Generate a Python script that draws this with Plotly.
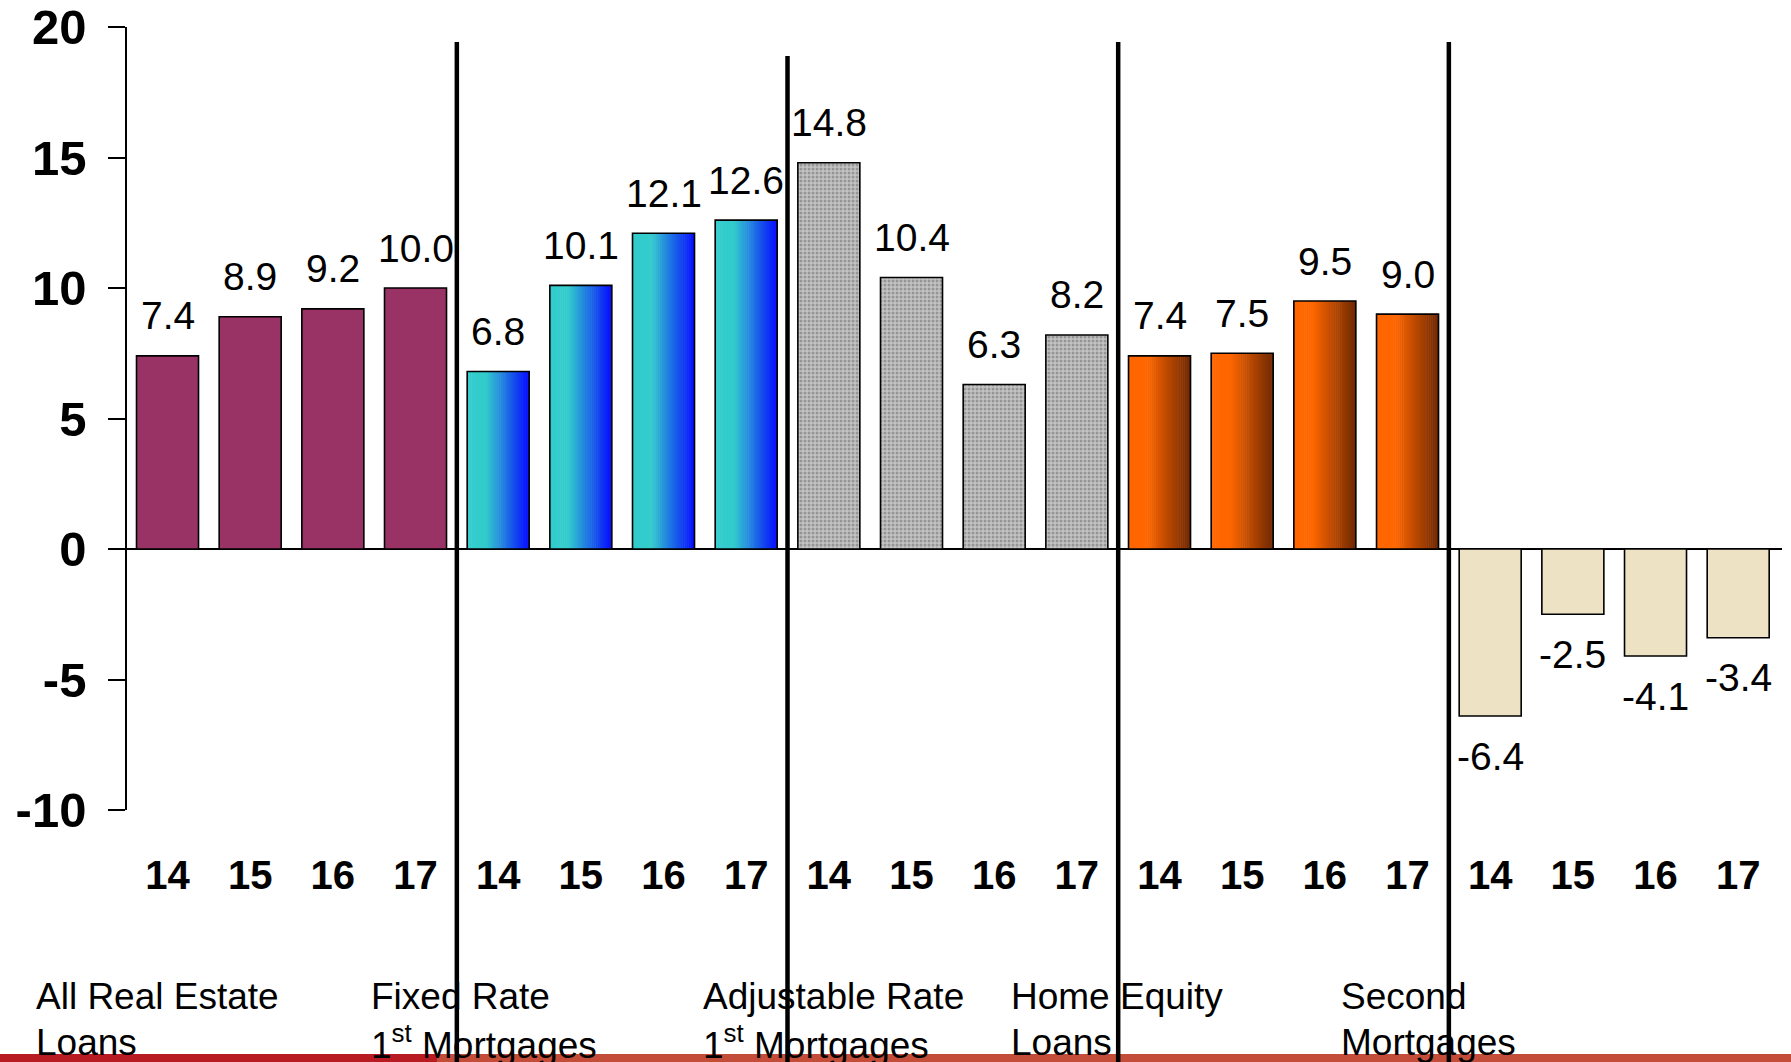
import plotly.graph_objects as go

# ---------------- data ----------------
groups = ["All Real Estate|Loans", "Fixed Rate|1<sup>st</sup> Mortgages",
          "Adjustable Rate|1<sup>st</sup> Mortgages", "Home Equity|Loans", "Second|Mortgages"]
years = ["14", "15", "16", "17"]
all_real_estate = [7.4, 8.9, 9.2, 10.0]
fixed_rate = [6.8, 10.1, 12.1, 12.6]
adjustable_rate = [14.8, 10.4, 6.3, 8.2]
home_equity = [7.4, 7.5, 9.5, 9.0]
second_mortgages = [-6.4, -2.5, -4.1, -3.4]
y_ticks = [-10, -5, 0, 5, 10, 15, 20]
y_ticktext = ["-10", "-5", "0", "5", "10", "15", "20"]

series = [all_real_estate, fixed_rate, adjustable_rate, home_equity, second_mortgages]
values = [v for s in series for v in s]
x_all = list(range(len(values)))
xs = [x_all[4 * g:4 * g + 4] for g in range(len(series))]

FONT = "Arial, Liberation Sans, sans-serif"
BW = 0.75
fig = go.Figure()

def grad(c0, c1, t0, t):
    if t <= t0:
        c = c0
    else:
        u = (t - t0) / (1 - t0)
        c = [c0[i] + (c1[i] - c0[i]) * u for i in range(3)]
    return "rgb(%d,%d,%d)" % tuple(int(round(v)) for v in c)

def gradient_bars(xv, yv, c0, c1, t0, n=30):
    step = BW / n
    for k in range(n):
        t = (k + 0.5) / n
        col = grad(c0, c1, t0, t)
        w = step * 1.25 if k < n - 1 else step
        fig.add_trace(go.Bar(x=xv, y=yv, width=w, offset=-BW / 2 + k * step,
                             marker=dict(color=col, line=dict(width=0)),
                             hoverinfo="skip", showlegend=False))

# group 1: solid magenta
fig.add_trace(go.Bar(x=xs[0], y=all_real_estate, width=BW,
                     marker=dict(color="#993366", line=dict(width=0)), showlegend=False))
# group 2: cyan -> blue gradient
gradient_bars(xs[1], fixed_rate, (51, 204, 204), (5, 10, 255), 0.3)
# group 3: grey stipple texture
fig.add_trace(go.Bar(x=xs[2], y=adjustable_rate, width=BW,
                     marker=dict(color="#bdbdbd", line=dict(width=0),
                                 pattern=dict(shape=".", bgcolor="#c4c4c4", fgcolor="#666666",
                                              size=4, solidity=0.45)),
                     showlegend=False))
# group 4: orange -> brown gradient
gradient_bars(xs[3], home_equity, (255, 102, 0), (110, 40, 2), 0.3)
# group 5: tan paper
fig.add_trace(go.Bar(x=xs[4], y=second_mortgages, width=BW,
                     marker=dict(color="#eee2c5", line=dict(width=0)), showlegend=False))
# outlines
fig.add_trace(go.Bar(x=x_all, y=values, width=BW,
                     marker=dict(color="rgba(0,0,0,0)", line=dict(color="black", width=1.6)),
                     showlegend=False, hoverinfo="skip"))

annotations = []
for xi, v in zip(x_all, values):
    annotations.append(dict(x=xi, y=v, xref="x", yref="y", text=f"{v:.1f}",
                            showarrow=False, yanchor="middle", yshift=40 if v >= 0 else -40,
                            font=dict(family=FONT, size=39, color="black")))

label_x = [-0.0562, 0.1462, 0.3468, 0.5329, 0.7323]
for lx, g in zip(label_x, groups):
    l1, l2 = g.split("|")
    annotations.append(dict(x=lx, y=-0.2385, xref="paper", yref="paper", text=l1, showarrow=False,
                            xanchor="left", yanchor="middle", font=dict(family=FONT, size=37, color="black")))
    annotations.append(dict(x=lx, y=-0.2965, xref="paper", yref="paper", text=l2, showarrow=False,
                            xanchor="left", yanchor="middle", font=dict(family=FONT, size=37, color="black")))

shapes = []
sep_tops = [0.981, 0.963, 0.981, 0.981]
for i, top in enumerate(sep_tops):
    xv = (xs[i][-1] + xs[i + 1][0]) / 2
    shapes.append(dict(type="line", xref="x", yref="paper", x0=xv, x1=xv, y0=top, y1=-0.36,
                       line=dict(color="black", width=4.5), layer="above"))
# bottom decorative stripe
shapes.append(dict(type="rect", xref="paper", yref="paper", x0=-0.08, x1=0.1873, y0=-0.3116, y1=-0.36,
                   fillcolor="#b81c22", line=dict(width=0), layer="below"))
shapes.append(dict(type="rect", xref="paper", yref="paper", x0=0.1873, x1=1.01, y0=-0.3116, y1=-0.36,
                   fillcolor="#c44d3a", line=dict(width=0), layer="below"))

fig.update_layout(
    width=1791, height=1062,
    margin=dict(l=127, r=9, t=27, b=252, pad=0, autoexpand=False),
    paper_bgcolor="white", plot_bgcolor="white",
    barmode="overlay", bargap=0.25,
    showlegend=False,
    annotations=annotations, shapes=shapes,
    xaxis=dict(range=[-0.49, 19.53], tickvals=x_all, ticktext=years * len(series),
               tickfont=dict(family=FONT, size=40, color="black", weight="bold"),
               showgrid=False, zeroline=False, showline=False, ticks="", ticklabelstandoff=38,
               automargin=False),
    yaxis=dict(range=[-10, 20], tickvals=y_ticks, ticktext=y_ticktext,
               tickfont=dict(family=FONT, size=49, color="black", weight="bold"),
               ticks="outside", ticklen=17, tickwidth=1.5, tickcolor="black",
               showline=True, linecolor="black", linewidth=1.5,
               showgrid=False, zeroline=True, zerolinecolor="black", zerolinewidth=1.5,
               ticklabelstandoff=12, automargin=False),
)

fig.write_html("out.html")
